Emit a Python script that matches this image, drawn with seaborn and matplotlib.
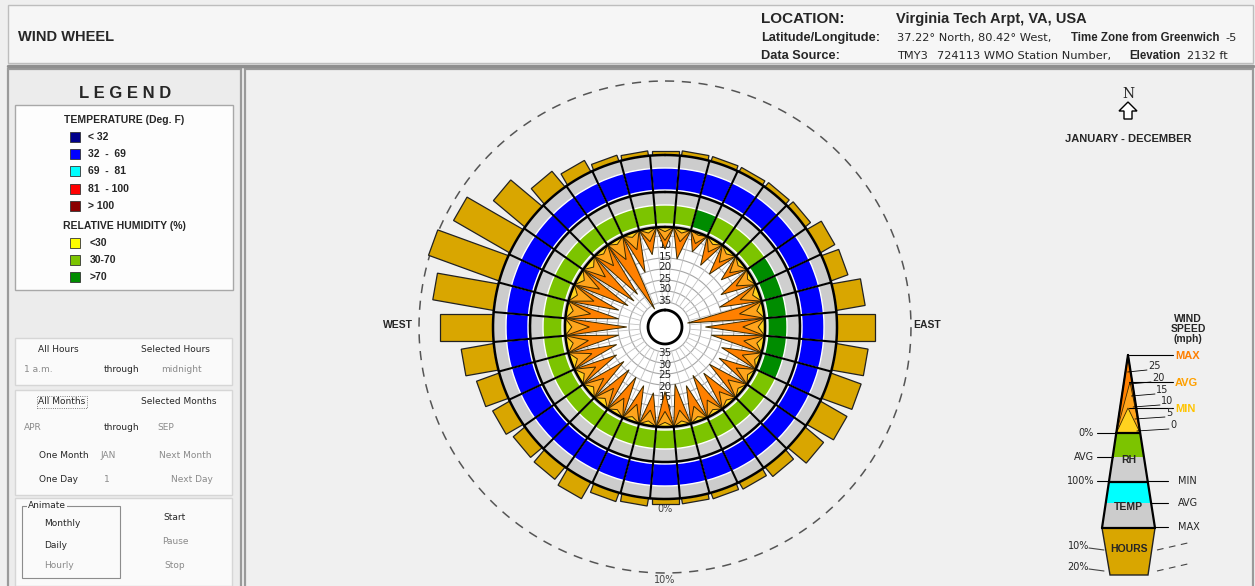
import numpy as np
import matplotlib
matplotlib.use("Agg")
import matplotlib.pyplot as plt
import seaborn as sns
from matplotlib.patches import Rectangle, Polygon

# ---- data (directions clockwise from north) ----
directions = list(range(0, 360, 10))

# share of hours the wind comes from each direction (%)
hours_pct = [0.6, 0.6, 0.6, 0.6, 0.7, 0.9, 2.2, 2.4, 3.9, 5.1, 4.3, 4.3,
             4.1, 3.2, 1.6, 1.0, 0.8, 0.7, 0.7, 1.0, 1.2, 2.5, 2.1, 2.0,
             2.6, 3.2, 4.4, 7.2, 8.3, 10.1, 8.7, 5.5, 2.7, 1.7, 0.8, 0.6]

# wind speed per direction (mph)
wind_max = [11, 15, 10, 14, 15, 13, 17, 20, 36, 28, 25, 19,
            18, 20, 19, 21, 18, 20, 17, 16, 18, 20, 21, 22,
            21, 23, 25, 29, 25, 24, 27, 28, 27, 37, 20, 13]
wind_avg = [7, 7, 6, 7, 8, 8, 9, 10, 12, 11, 10, 9,
            9, 9, 8, 8, 8, 8, 8, 8, 9, 9, 10, 10,
            10, 11, 11, 12, 12, 12, 12, 11, 10, 11, 9, 7]
wind_min = [3, 3, 2, 3, 3, 3, 3, 4, 4, 4, 4, 3,
            3, 3, 3, 3, 3, 3, 3, 3, 3, 3, 4, 4,
            4, 4, 4, 4, 4, 4, 4, 4, 3, 3, 3, 3]

# relative humidity and temperature class per direction
rh_class = ["30-70", "30-70", ">70", "30-70", "30-70", "30-70", ">70", ">70",
            ">70", ">70", ">70", ">70", "30-70", "30-70", "30-70", "30-70",
            "30-70", "30-70", "30-70", "30-70", "30-70", "30-70", "30-70",
            "30-70", "30-70", "30-70", "30-70", "30-70", "30-70", "30-70",
            "30-70", "30-70", "30-70", "30-70", "30-70", "30-70"]
temp_class = ["32 - 69"] * 36

speed_ticks = [5, 10, 15, 20, 25, 30, 35]

temp_legend = ["< 32", "32  -  69", "69  -  81", "81  - 100", "> 100"]
temp_colors = ["#00008b", "#0000ff", "#00ffff", "#ff0000", "#8b0000"]
rh_legend = ["<30", "30-70", ">70"]
rh_colors = ["#ffff00", "#7cc400", "#008c00"]

sns.set_theme(style="white")
plt.rcParams["font.family"] = ["Liberation Sans", "DejaVu Sans"]

GOLD = "#d9a600"

fig = plt.figure(figsize=(12.55, 5.86), dpi=100)
fig.patch.set_facecolor("#efefef")

# background axes in pixel units (y down)
bg = fig.add_axes([0, 0, 1, 1])
bg.set_xlim(0, 1255)
bg.set_ylim(586, 0)
bg.axis("off")

# panels
bg.add_patch(Rectangle((8, 5), 1245, 58, fc="#f6f6f6", ec="#bdbdbd", lw=1))
bg.plot([8, 1253], [66, 66], color="#8f8f8f", lw=2.5)
bg.add_patch(Rectangle((8, 69), 233, 520, fc="#ececec", ec="#9a9a9a", lw=1.6))
bg.add_patch(Rectangle((245, 69), 1008, 520, fc="#f0f0f0", ec="#9a9a9a", lw=1.6))

# header text
bg.text(18, 37, "WIND WHEEL", fontsize=10.5, fontweight="bold", va="center")
bg.text(761, 23, "LOCATION:", fontsize=11, fontweight="bold")
bg.text(896, 23, "Virginia Tech Arpt, VA, USA", fontsize=10.5, fontweight="bold")
bg.text(761, 41, "Latitude/Longitude:", fontsize=9.2, fontweight="bold")
bg.text(761, 59, "Data Source:", fontsize=9.2, fontweight="bold")
for x, y, s, w in [(897, 41, "37.22° North, 80.42° West,", "normal"),
                   (1071, 41, "Time Zone from Greenwich", "bold"),
                   (1225, 41, "-5", "normal"),
                   (897, 59, "TMY3", "normal"),
                   (937, 59, "724113 WMO Station Number,", "normal"),
                   (1129, 59, "Elevation", "bold"),
                   (1187, 59, "2132 ft", "normal")]:
    if w == "bold":
        bg.text(x, y, s, fontsize=8.3, fontweight="bold")
    else:
        bg.text(x, y, s, fontsize=8.2, family="DejaVu Sans")

# ---- legend panel ----
bg.text(125, 94, "L E G E N D", fontsize=12, fontweight="bold",
        ha="center", va="center")
bg.add_patch(Rectangle((15, 105), 218, 185, fc="#fdfdfd", ec="#a8a8a8", lw=1))
bg.text(124, 120, "TEMPERATURE (Deg. F)", fontsize=7.5, fontweight="bold",
        ha="center", va="center")
for i, (lab, col) in enumerate(zip(temp_legend, temp_colors)):
    y = 137 + i * 17.2
    bg.add_patch(Rectangle((70, y - 5), 10, 10, fc=col, ec="#333333", lw=0.6))
    bg.text(88, y, lab, fontsize=7.5, fontweight="bold", va="center")
bg.text(124, 226, "RELATIVE HUMIDITY (%)", fontsize=7.5, fontweight="bold",
        ha="center", va="center")
for i, (lab, col) in enumerate(zip(rh_legend, rh_colors)):
    y = 243 + i * 17.2
    bg.add_patch(Rectangle((70, y - 5), 10, 10, fc=col, ec="#333333", lw=0.6))
    bg.text(90, y, lab, fontsize=7.5, fontweight="bold", va="center")

# ---- control boxes ----
ctl = dict(fontsize=6.5, family="DejaVu Sans", va="center")
for (y0, h) in [(338, 47), (390, 105), (498, 88)]:
    bg.add_patch(Rectangle((15, y0), 217, h, fc="#fafafa", ec="#d6d6d6", lw=1))
grey = "#8a8a8a"
bg.text(58, 349, "All Hours", ha="center", **ctl)
bg.text(175, 349, "Selected Hours", ha="center", **ctl)
bg.text(24, 370, "1 a.m.", ha="left", color=grey, **ctl)
bg.text(122, 370, "through", ha="center", **ctl)
bg.text(181, 370, "midnight", ha="center", color=grey, **ctl)
bg.text(62, 402, "All Months", ha="center",
        bbox=dict(boxstyle="square,pad=0.15", fc="none", ec="#555555",
                  ls=":", lw=0.6), **ctl)
bg.text(179, 402, "Selected Months", ha="center", **ctl)
bg.text(24, 428, "APR", ha="left", color=grey, **ctl)
bg.text(122, 428, "through", ha="center", **ctl)
bg.text(157, 428, "SEP", ha="left", color=grey, **ctl)
bg.text(39, 455, "One Month", ha="left", **ctl)
bg.text(100, 455, "JAN", ha="left", color=grey, **ctl)
bg.text(185, 455, "Next Month", ha="center", color=grey, **ctl)
bg.text(39, 480, "One Day", ha="left", **ctl)
bg.text(104, 480, "1", ha="left", color=grey, **ctl)
bg.text(192, 480, "Next Day", ha="center", color=grey, **ctl)
bg.add_patch(Rectangle((22, 506), 98, 72, fc="none", ec="#8c8c8c", lw=0.8))
bg.text(28, 506, "Animate", ha="left", bbox=dict(fc="#fafafa", ec="none", pad=0.5), **ctl)
bg.text(62, 524, "Monthly", ha="center", **ctl)
bg.text(56, 545, "Daily", ha="center", **ctl)
bg.text(59, 566, "Hourly", ha="center", color=grey, **ctl)
bg.text(175, 518, "Start", ha="center", **ctl)
bg.text(175, 542, "Pause", ha="center", color=grey, **ctl)
bg.text(175, 566, "Stop", ha="center", color=grey, **ctl)

# ---- north arrow and period ----
bg.text(1128, 94, "N", fontsize=10, family="DejaVu Serif", ha="center", va="center")
bg.add_patch(Polygon([(1128, 102), (1137, 111), (1132, 111), (1132, 119),
                      (1124, 119), (1124, 111), (1119, 111)],
                     closed=True, fc="white", ec="black", lw=1))
bg.text(1128, 139, "JANUARY - DECEMBER", fontsize=8, fontweight="bold",
        ha="center", va="center")
bg.text(398, 325, "WEST", fontsize=7.5, fontweight="bold", ha="center", va="center")
bg.text(927, 325, "EAST", fontsize=7.5, fontweight="bold", ha="center", va="center")

# ---- wind wheel (polar, radius in pixels) ----
cx, cy, R = 665, 327, 262
ax = fig.add_axes([(cx - R) / 1255, (586 - cy - R) / 586, 2 * R / 1255, 2 * R / 586],
                  projection="polar")
ax.set_theta_zero_location("N")
ax.set_theta_direction(-1)
ax.set_ylim(0, R)
ax.set_facecolor("none")
ax.grid(False)
ax.set_xticks([])
ax.set_yticks([])
ax.spines["polar"].set_visible(False)

R_WIND, R_RH, R_TEMP = 100, 135, 172
PX_PER_PCT = 7.4
BAR_HALF = 13.5
theta = np.deg2rad(directions)
half = np.deg2rad(5)
sector = np.deg2rad(10)
circ = np.linspace(0, 2 * np.pi, 400)


def wind_r(v):
    return np.minimum(R_WIND, 102 - 2.2 * np.asarray(v, dtype=float))


# white wind area
ax.bar(0, R_WIND, width=2 * np.pi, bottom=0, color="white", zorder=1)
for v in speed_ticks:
    ax.plot(circ, np.full_like(circ, wind_r(v)), color="#a6a6a6", lw=0.8, zorder=2)
for b in theta + half:
    ax.plot([b, b], [wind_r(35), R_WIND], color="#c2c2c2", lw=0.6, zorder=2)
for v in speed_ticks[1:]:
    ax.text(0, wind_r(v) + 1.5, str(v), fontsize=7.5, family="DejaVu Sans",
            color="#222222", ha="center", va="center", zorder=2.5)
    ax.text(np.pi, wind_r(v) + 1.5, str(v), fontsize=7.5, family="DejaVu Sans",
            color="#222222", ha="center", va="center", zorder=2.5)

# wind speed spikes: max, avg, min
for vals, col, z in [(wind_max, "#ff8000", 3), (wind_avg, "#ffa41c", 3.2),
                     (wind_min, "#ffd21f", 3.4)]:
    for t, v in zip(theta, vals):
        ax.fill([t - half, t, t + half], [R_WIND, wind_r(v), R_WIND],
                fc=col, ec="#3a2a00", lw=0.7, zorder=z)

# center circle
ax.bar(0, 17, width=2 * np.pi, bottom=0, color="white", zorder=4)
ax.plot(circ, np.full_like(circ, 17), color="black", lw=2, zorder=4.1)

# relative humidity ring
rh_map = dict(zip(rh_legend, rh_colors))
ax.bar(theta, R_RH - R_WIND, width=sector, bottom=R_WIND, color="#cfcfcf", zorder=5)
ax.bar(theta, 19, width=sector, bottom=R_WIND + 3,
       color=[rh_map[c] for c in rh_class], zorder=5.1)

# temperature ring
temp_map = dict(zip(temp_legend, temp_colors))
temp_map["32 - 69"] = "#0000ff"
ax.bar(theta, R_TEMP - R_RH, width=sector, bottom=R_RH, color="#cccccc", zorder=5)
ax.bar(theta, 22, width=sector, bottom=R_RH + 2,
       color=[temp_map[c] for c in temp_class], zorder=5.1)

for b in theta + half:
    ax.plot([b, b], [R_WIND, R_TEMP], color="black", lw=1.5, zorder=6)
for r in [R_WIND, R_RH, R_TEMP]:
    ax.plot(circ, np.full_like(circ, r), color="black", lw=1.8, zorder=6.1)

# hours bars: straight-sided bars standing on the outer ring
ax.text(np.pi, R_TEMP + 10, "0%", fontsize=7, family="DejaVu Sans",
        color="#444444", ha="center", va="center", zorder=4)
for t, p in zip(theta, hours_pct):
    d = np.array([R_TEMP - 3, R_TEMP + p * PX_PER_PCT,
                  R_TEMP + p * PX_PER_PCT, R_TEMP - 3])
    s = np.array([-BAR_HALF, -BAR_HALF, BAR_HALF, BAR_HALF])
    ax.fill(t + np.arctan2(s, d), np.hypot(d, s), fc=GOLD, ec="#222222",
            lw=0.9, zorder=4.8)

# 10% ring
r10 = R_TEMP + 10 * PX_PER_PCT
ax.plot(circ, np.full_like(circ, r10), color="#555555", lw=1.1,
        dashes=(6, 5), zorder=2)
ax.text(np.pi, r10 + 7, "10%", fontsize=7, family="DejaVu Sans",
        color="#444444", ha="center", va="center")

# ---- wind wheel key (bottom right) ----
bg.text(1188, 329, "WIND\nSPEED\n(mph)", fontsize=7.5, fontweight="bold",
        ha="center", va="center", linespacing=1.0)


def lx(y):
    return 1128 - 26 * (y - 355) / 173


def rx(y):
    return 1128 + 27 * (y - 355) / 173


bg.add_patch(Polygon([(lx(433), 433), (1128, 355), (rx(433), 433)], fc="#ff8000",
                     ec="black", lw=0.8))
bg.add_patch(Polygon([(lx(433), 433), (1130, 382), (rx(433), 433)], fc="#ffa41c",
                     ec="#3a2a00", lw=0.6))
bg.add_patch(Polygon([(lx(433), 433), (1128, 408), (rx(433), 433)], fc="#ffd21f",
                     ec="#3a2a00", lw=0.6))
for y0, y1, col in [(433, 457, "#7cc400"), (457, 482, "#cfcfcf"),
                    (482, 503, "#00ffff"), (503, 528, "#cccccc")]:
    bg.add_patch(Polygon([(lx(y0), y0), (rx(y0), y0), (rx(y1), y1), (lx(y1), y1)],
                         fc=col, ec="none"))
bg.add_patch(Polygon([(1102, 528), (1155, 528), (1148, 575), (1110, 575)],
                     fc=GOLD, ec="#222222", lw=1))
bg.plot([1128, lx(528)], [355, 528], color="black", lw=1.6)
bg.plot([1128, rx(528)], [355, 528], color="black", lw=1.6)
for y in [433, 482, 528]:
    bg.plot([lx(y), rx(y)], [y, y], color="black", lw=1.6)
bg.text(1129, 460, "RH", fontsize=7.5, fontweight="bold", ha="center", va="center")
bg.text(1128, 507, "TEMP", fontsize=7.5, fontweight="bold", ha="center", va="center")
bg.text(1129, 549, "HOURS", fontsize=7.5, fontweight="bold", ha="center", va="center")

for y, lab, col in [(355, "MAX", "#ff7f00"), (382, "AVG", "#ffa000"),
                    (408, "MIN", "#ffc400")]:
    bg.plot([1129, 1173], [y, y], color="black", lw=0.8)
    bg.text(1175, y + 1, lab, fontsize=8, fontweight="bold", color=col, va="center")
for v, (x, y) in zip([25, 20, 15, 10, 5, 0],
                     [(1147, 366), (1151, 378), (1155, 390), (1160, 401),
                      (1165, 413), (1169, 425)]):
    bg.plot([rx(y + 6) - 3, x], [y + 6, y + 4], color="black", lw=0.6)
    bg.text(x + 1, y, str(v), fontsize=7, family="DejaVu Sans", va="center")
for y, lab in [(433, "0%"), (457, "AVG"), (481, "100%")]:
    bg.plot([1097, lx(y)], [y, y], color="black", lw=0.8)
    bg.text(1094, y, lab, fontsize=7, family="DejaVu Sans", ha="right", va="center")
for y, lab in [(481, "MIN"), (503, "AVG"), (527, "MAX")]:
    bg.plot([rx(y), 1168], [y, y], color="black", lw=0.8)
    bg.text(1178, y, lab, fontsize=7, family="DejaVu Sans", ha="left", va="center")
for y, lab in [(546, "10%"), (567, "20%")]:
    bg.text(1089, y, lab, fontsize=7, family="DejaVu Sans", ha="right", va="center")
    bg.plot([1089, 1104], [y + 2, y + 4], color="#444444", lw=0.8)
    bg.plot([1157, 1192], [y + 4, y - 4], color="#444444", lw=0.8, dashes=(6, 5))

fig.savefig("out.png", dpi=100, facecolor=fig.get_facecolor())
